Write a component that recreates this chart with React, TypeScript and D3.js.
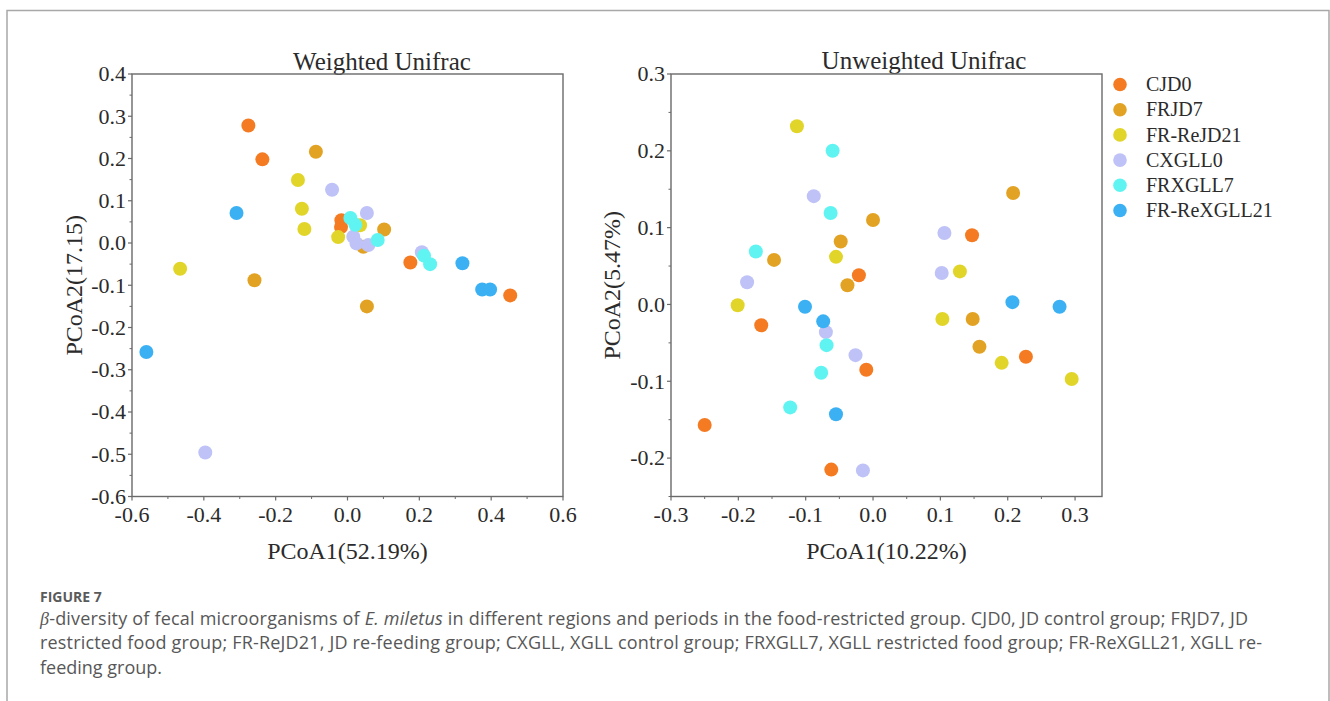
import React from "react";
import * as d3 from "d3";

type Pt = [number, number];

// Groups, legend order and colours
const groups = ["CJD0", "FRJD7", "FR-ReJD21", "CXGLL0", "FRXGLL7", "FR-ReXGLL21"];
const groupColors = ["#F57B22", "#E2A324", "#E2D52A", "#BEC2F7", "#5FF4F2", "#3BB1F4"];

// Weighted UniFrac PCoA coordinates: [PCoA1, PCoA2]
const weightedCJD0: Pt[] = [[-0.276, 0.278], [-0.237, 0.198], [-0.018, 0.038], [-0.017, 0.054], [0.175, -0.046], [0.453, -0.124]];
const weightedFRJD7: Pt[] = [[-0.088, 0.216], [-0.259, -0.088], [0.054, -0.150], [0.102, 0.032], [0.044, -0.009]];
const weightedFRReJD21: Pt[] = [[-0.138, 0.149], [-0.127, 0.081], [-0.120, 0.033], [-0.466, -0.061], [-0.026, 0.014], [0.035, 0.042]];
const weightedCXGLL0: Pt[] = [[-0.043, 0.126], [0.054, 0.071], [-0.396, -0.496], [0.207, -0.022], [0.016, 0.015], [0.025, -0.001], [0.058, -0.005]];
const weightedFRXGLL7: Pt[] = [[0.008, 0.059], [0.022, 0.043], [0.084, 0.007], [0.213, -0.030], [0.230, -0.050]];
const weightedFRReXGLL21: Pt[] = [[-0.309, 0.071], [-0.560, -0.258], [0.320, -0.048], [0.375, -0.110], [0.397, -0.110]];

// Unweighted UniFrac PCoA coordinates: [PCoA1, PCoA2]
const unweightedCJD0: Pt[] = [[-0.250, -0.157], [-0.166, -0.027], [-0.021, 0.038], [-0.010, -0.085], [-0.062, -0.215], [0.147, 0.090], [0.227, -0.068]];
const unweightedFRJD7: Pt[] = [[-0.147, 0.058], [-0.048, 0.082], [0.000, 0.110], [-0.038, 0.025], [0.208, 0.145], [0.148, -0.019], [0.158, -0.055]];
const unweightedFRReJD21: Pt[] = [[-0.113, 0.232], [-0.055, 0.062], [-0.201, -0.001], [0.103, -0.019], [0.129, 0.043], [0.191, -0.076], [0.295, -0.097]];
const unweightedCXGLL0: Pt[] = [[-0.088, 0.141], [-0.187, 0.029], [-0.070, -0.036], [-0.026, -0.066], [-0.015, -0.216], [0.106, 0.093], [0.102, 0.041]];
const unweightedFRXGLL7: Pt[] = [[-0.060, 0.200], [-0.063, 0.119], [-0.174, 0.069], [-0.069, -0.053], [-0.077, -0.089], [-0.123, -0.134]];
const unweightedFRReXGLL21: Pt[] = [[-0.101, -0.003], [-0.074, -0.022], [-0.055, -0.143], [0.207, 0.003], [0.277, -0.003]];

// Axis ticks
const weightedXTicks = [-0.6, -0.4, -0.2, 0.0, 0.2, 0.4, 0.6];
const weightedXTickLabels = ["-0.6", "-0.4", "-0.2", "0.0", "0.2", "0.4", "0.6"];
const weightedYTicks = [-0.6, -0.5, -0.4, -0.3, -0.2, -0.1, 0.0, 0.1, 0.2, 0.3, 0.4];
const weightedYTickLabels = ["-0.6", "-0.5", "-0.4", "-0.3", "-0.2", "-0.1", "0.0", "0.1", "0.2", "0.3", "0.4"];
const unweightedXTicks = [-0.3, -0.2, -0.1, 0.0, 0.1, 0.2, 0.3];
const unweightedXTickLabels = ["-0.3", "-0.2", "-0.1", "0.0", "0.1", "0.2", "0.3"];
const unweightedYTicks = [-0.2, -0.1, 0.0, 0.1, 0.2, 0.3];
const unweightedYTickLabels = ["-0.2", "-0.1", "0.0", "0.1", "0.2", "0.3"];

const captionHead = "FIGURE 7";
const captionLines = [
  "-diversity of fecal microorganisms of ",
  "restricted food group; FR-ReJD21, JD re-feeding group; CXGLL, XGLL control group; FRXGLL7, XGLL restricted food group; FR-ReXGLL21, XGLL re-",
  "feeding group.",
];

const SERIF = "'Liberation Serif', 'Times New Roman', serif";
const SANS = "'Open Sans', 'Noto Sans', sans-serif";
const INK = "#2b2b2b";
const AXIS = "#6a6a6a";
const CAPTION = "#575757";

interface PanelProps {
  title: string;
  titleX: number;
  titleY: number;
  xLabel: string;
  yLabel: string;
  yLabelX: number;
  xDomain: [number, number];
  yDomain: [number, number];
  xTicks: number[];
  xTickLabels: string[];
  yTicks: number[];
  yTickLabels: string[];
  box: { left: number; right: number; top: number; bottom: number };
  series: Pt[][];
}

function minorTicks(ticks: number[], domain: [number, number]): number[] {
  const step = ticks[1] - ticks[0];
  const out: number[] = [];
  const lo = Math.min(...domain);
  const hi = Math.max(...domain);
  for (let i = -1; i < ticks.length; i++) {
    const v = ticks[0] + (i + 0.5) * step;
    if (v >= lo - 1e-9 && v <= hi + 1e-9) out.push(v);
  }
  return out;
}

function Panel(p: PanelProps) {
  const { box } = p;
  const x = d3.scaleLinear().domain(p.xDomain).range([box.left, box.right]);
  const y = d3.scaleLinear().domain(p.yDomain).range([box.bottom, box.top]);
  const xMinor = minorTicks(p.xTicks, p.xDomain);
  const yMinor = minorTicks(p.yTicks, p.yDomain);
  const cx = (box.left + box.right) / 2;
  const cy = (box.top + box.bottom) / 2;
  return (
    <g>
      <text x={p.titleX} y={p.titleY} textAnchor="middle" fontFamily={SERIF} fontSize={25} fill={INK}>
        {p.title}
      </text>
      <rect
        x={box.left}
        y={box.top}
        width={box.right - box.left}
        height={box.bottom - box.top}
        fill="none"
        stroke={AXIS}
        strokeWidth={1.4}
      />
      {p.xTicks.map((t, i) => (
        <g key={"xt" + i}>
          <line x1={x(t)} x2={x(t)} y1={box.bottom} y2={box.bottom + 4} stroke={AXIS} strokeWidth={1.2} />
          <text x={x(t)} y={box.bottom + 25} textAnchor="middle" fontFamily={SERIF} fontSize={22} fill={INK}>
            {p.xTickLabels[i]}
          </text>
        </g>
      ))}
      {xMinor.map((t, i) => (
        <line key={"xm" + i} x1={x(t)} x2={x(t)} y1={box.bottom} y2={box.bottom + 2.5} stroke={AXIS} strokeWidth={1} />
      ))}
      {p.yTicks.map((t, i) => (
        <g key={"yt" + i}>
          <line x1={box.left - 4} x2={box.left} y1={y(t)} y2={y(t)} stroke={AXIS} strokeWidth={1.2} />
          <text
            x={box.left - 6}
            y={y(t)}
            dy="0.33em"
            textAnchor="end"
            fontFamily={SERIF}
            fontSize={22}
            fill={INK}
          >
            {p.yTickLabels[i]}
          </text>
        </g>
      ))}
      {yMinor.map((t, i) => (
        <line key={"ym" + i} x1={box.left - 2.5} x2={box.left} y1={y(t)} y2={y(t)} stroke={AXIS} strokeWidth={1} />
      ))}
      <text x={cx} y={559} textAnchor="middle" fontFamily={SERIF} fontSize={24} fill={INK}>
        {p.xLabel}
      </text>
      <text
        transform={`translate(${p.yLabelX},${cy}) rotate(-90)`}
        textAnchor="middle"
        fontFamily={SERIF}
        fontSize={24}
        fill={INK}
      >
        {p.yLabel}
      </text>
      {p.series.map((pts, gi) => (
        <g key={"s" + gi} fill={groupColors[gi]}>
          {pts.map((d, j) => (
            <circle key={j} cx={x(d[0])} cy={y(d[1])} r={7} />
          ))}
        </g>
      ))}
    </g>
  );
}

export default function App() {
  const legendY = d3.scaleLinear().domain([0, groups.length - 1]).range([84.5, 210.5]);
  return (
    <svg
      width={1330}
      height={701}
      viewBox="0 0 1330 701"
      style={{ position: "absolute", left: 0, top: 0, background: "#fff" }}
    >
      <rect x={0} y={0} width={1330} height={701} fill="#fff" />
      <path d="M7,712 L7,10.5 L1329,10.5 L1329,712" fill="none" stroke="#a8a8a8" strokeWidth={1.5} />

      <Panel
        title="Weighted Unifrac"
        titleX={382}
        titleY={70}
        xLabel="PCoA1(52.19%)"
        yLabel="PCoA2(17.15)"
        yLabelX={82}
        xDomain={[-0.6, 0.6]}
        yDomain={[-0.6, 0.4]}
        xTicks={weightedXTicks}
        xTickLabels={weightedXTickLabels}
        yTicks={weightedYTicks}
        yTickLabels={weightedYTickLabels}
        box={{ left: 132, right: 563, top: 74, bottom: 496.5 }}
        series={[weightedCJD0, weightedFRJD7, weightedFRReJD21, weightedCXGLL0, weightedFRXGLL7, weightedFRReXGLL21]}
      />
      <Panel
        title="Unweighted Unifrac"
        titleX={924}
        titleY={68.5}
        xLabel="PCoA1(10.22%)"
        yLabel="PCoA2(5.47%)"
        yLabelX={620}
        xDomain={[-0.3, 0.34]}
        yDomain={[-0.25, 0.3]}
        xTicks={unweightedXTicks}
        xTickLabels={unweightedXTickLabels}
        yTicks={unweightedYTicks}
        yTickLabels={unweightedYTickLabels}
        box={{ left: 671, right: 1102, top: 74, bottom: 496.5 }}
        series={[unweightedCJD0, unweightedFRJD7, unweightedFRReJD21, unweightedCXGLL0, unweightedFRXGLL7, unweightedFRReXGLL21]}
      />

      {groups.map((g, i) => (
        <g key={g}>
          <circle cx={1120} cy={legendY(i)} r={6.8} fill={groupColors[i]} />
          <text x={1146} y={legendY(i)} dy="0.33em" fontFamily={SERIF} fontSize={20} fill={INK}>
            {g}
          </text>
        </g>
      ))}

      <text x={40} y={602} fontFamily={SANS} fontSize={14} fontWeight={700} fill="#5a5a5a">
        {captionHead}
      </text>
      <text x={40} y={624.5} fontFamily={SANS} fontSize={18} fill={CAPTION} textLength={1208} lengthAdjust="spacing">
        <tspan fontFamily={SERIF} fontStyle="italic">β</tspan>
        <tspan>{captionLines[0]}</tspan>
        <tspan fontStyle="italic">E. miletus</tspan>
        <tspan> in different regions and periods in the food-restricted group. CJD0, JD control group; FRJD7, JD</tspan>
      </text>
      <text x={40} y={649} fontFamily={SANS} fontSize={18} fill={CAPTION} textLength={1222} lengthAdjust="spacing">
        {captionLines[1]}
      </text>
      <text x={40} y={673.5} fontFamily={SANS} fontSize={18} fill={CAPTION}>
        {captionLines[2]}
      </text>
    </svg>
  );
}
